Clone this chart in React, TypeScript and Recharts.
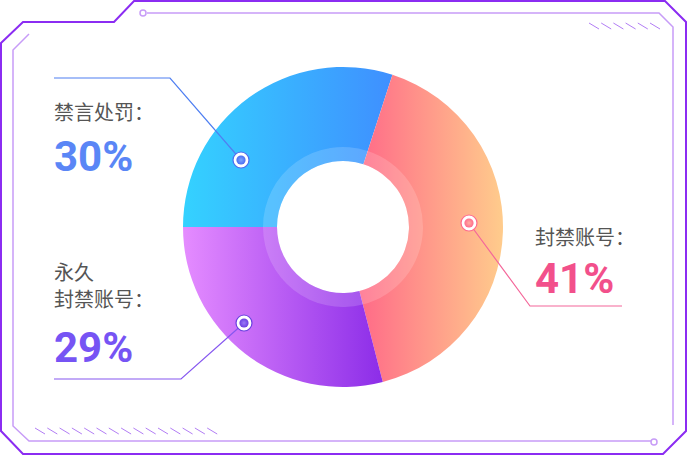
import { Cell, Pie, PieChart } from "recharts";

const CATEGORIES = ["禁言处罚", "封禁账号", "永久封禁账号"];
const VALUES = [30, 41, 29];
const LABEL_LINES = [["禁言处罚："], ["封禁账号："], ["永久", "封禁账号："]];

const data = CATEGORIES.map((name, i) => ({ name, value: VALUES[i] }));

const W = 687;
const H = 455;
const CX = 343;
const CY = 227;

const GRADS = [
  ["#34d2ff", "#3f8fff"],
  ["#ff6a88", "#ffcc8c"],
  ["#e58cff", "#8c2de8"],
];
const PCT_COLOR = ["#5a86f6", "#f2508b", "#7654f4"];
const LINE_COLOR = ["#4f7ff2", "#f4679a", "#8657f0"];
const DOT_COLOR = [
  ["#7aa6ff", "#4a6cf0"],
  ["#ffb0a0", "#ff6a8c"],
  ["#9a7af8", "#6a3fe0"],
];

// label placement relative to pie centre
const LAYOUT = [
  { dot: [-102, -67], elbow: [-173, -149], end: -289, tx: -289, name: [-107], pct: -56 },
  { dot: [126, -4], elbow: [187, 79], end: 279, tx: 192, name: [18], pct: 66 },
  { dot: [-99, 96], elbow: [-162, 152], end: -289, tx: -289, name: [53, 80], pct: 135 },
];

function renderLabel(props: any) {
  const { cx, cy, index, percent } = props;
  const l = LAYOUT[index];
  const dx = cx + l.dot[0];
  const dy = cy + l.dot[1];
  const ex = cx + l.elbow[0];
  const ey = cy + l.elbow[1];
  return (
    <g key={`lbl-${index}`}>
      <polyline
        points={`${dx},${dy} ${ex},${ey} ${cx + l.end},${ey}`}
        fill="none"
        stroke={LINE_COLOR[index]}
        strokeWidth={1.2}
      />
      <circle cx={dx} cy={dy} r={8} fill="#fff" stroke={DOT_COLOR[index][1]} strokeWidth={1.2} />
      <circle cx={dx} cy={dy} r={4.6} fill={`url(#dot${index})`} />
      {LABEL_LINES[index].map((t, j) => (
        <text
          key={j}
          x={cx + l.tx}
          y={cy + l.name[j]}
          fontSize={20}
          fill="#555"
          fontFamily="'Noto Sans CJK SC', sans-serif"
        >
          {t}
        </text>
      ))}
      <text
        x={cx + l.tx}
        y={cy + l.pct}
        fontSize={42}
        fontWeight={700}
        fill={PCT_COLOR[index]}
        fontFamily="Roboto, sans-serif"
      >
        {Math.round(percent * 100)}%
      </text>
    </g>
  );
}

function Frame() {
  const purple = "#8b2cf2";
  const light = "#c79cf7";
  const hatch = "#b27df5";
  return (
    <svg width={W} height={H} style={{ position: "absolute", left: 0, top: 0 }}>
      <path
        d="M1,43 L23,22 L114,22 L134,1 L665,1 L686,22 L686,431 L663,454 L23,454 L1,431 Z"
        fill="none"
        stroke={purple}
        strokeWidth={2}
      />
      <path d="M29,34 L13,50 L13,426 L29,441 L651,441" fill="none" stroke={light} strokeWidth={1.5} />
      <circle cx={654} cy={442} r={3} fill="#fff" stroke={light} strokeWidth={1.5} />
      <path d="M147,13 L659,13 L673,27 L673,425" fill="none" stroke={light} strokeWidth={1.5} />
      <circle cx={143} cy={13} r={3} fill="#fff" stroke={light} strokeWidth={1.5} />
      {Array.from({ length: 6 }, (_, i) => (
        <line key={`t${i}`} x1={589 + i * 12.2} y1={23} x2={599 + i * 12.2} y2={29} stroke={hatch} strokeWidth={1} />
      ))}
      {Array.from({ length: 15 }, (_, i) => (
        <line key={`b${i}`} x1={35 + i * 12.3} y1={428} x2={45 + i * 12.3} y2={434} stroke={hatch} strokeWidth={1} />
      ))}
    </svg>
  );
}

export default function App() {
  return (
    <div style={{ position: "absolute", left: 0, top: 0, width: W, height: H, background: "#fff" }}>
      <Frame />
      <div style={{ position: "absolute", left: 0, top: 0 }}>
        <PieChart width={W} height={H} margin={{ top: 0, right: 0, bottom: 0, left: 0 }}>
          <defs>
            {GRADS.map((g, i) => (
              <linearGradient key={i} id={`seg${i}`} x1="0" y1="0" x2="1" y2="0">
                <stop offset="0%" stopColor={g[0]} />
                <stop offset="100%" stopColor={g[1]} />
              </linearGradient>
            ))}
            {DOT_COLOR.map((g, i) => (
              <radialGradient key={i} id={`dot${i}`} cx="50%" cy="50%" r="50%">
                <stop offset="0%" stopColor={g[0]} />
                <stop offset="100%" stopColor={g[1]} />
              </radialGradient>
            ))}
          </defs>
          <Pie
            data={data}
            dataKey="value"
            nameKey="name"
            cx={CX}
            cy={CY}
            innerRadius={66}
            outerRadius={160}
            startAngle={180}
            endAngle={-180}
            stroke="none"
            label={renderLabel}
            labelLine={false}
            isAnimationActive={false}
          >
            {data.map((_, i) => (
              <Cell key={i} fill={`url(#seg${i})`} />
            ))}
          </Pie>
          <Pie
            data={data}
            dataKey="value"
            cx={CX}
            cy={CY}
            innerRadius={66}
            outerRadius={80}
            startAngle={180}
            endAngle={-180}
            stroke="none"
            fill="#fff"
            fillOpacity={0.16}
            isAnimationActive={false}
          />
        </PieChart>
      </div>
    </div>
  );
}
